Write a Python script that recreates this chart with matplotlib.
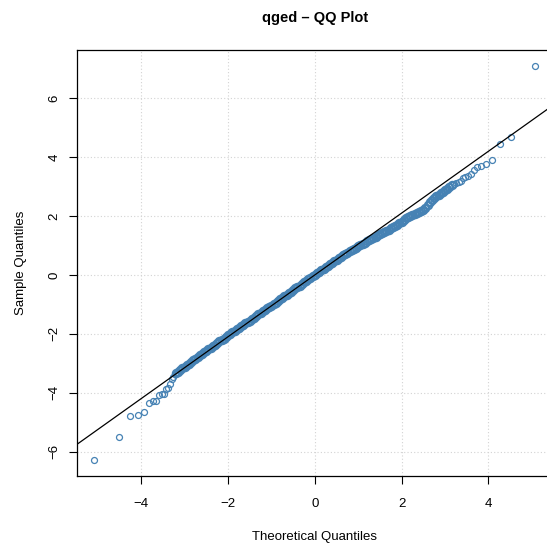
import matplotlib
matplotlib.use("Agg")
import matplotlib.pyplot as plt

plt.rcParams['font.family'] = ['Liberation Sans', 'DejaVu Sans']

title = "qged \u2013 QQ Plot"

# qqline of the sample (intercept, slope)
line_intercept = 0.0
line_slope = 1.05

# lower tail
theo_lower = [-5.08, -4.52, -4.26, -4.07, -3.94, -3.83, -3.74, -3.66, -3.59,
              -3.53, -3.48, -3.44, -3.39, -3.34, -3.29, -3.26, -3.23]
sample_lower = [-6.28, -5.51, -4.80, -4.77, -4.67, -4.35, -4.28, -4.27, -4.09,
                -4.06, -4.05, -3.87, -3.85, -3.69, -3.54, -3.47, -3.36]

# dense middle part
theo_mid = [-3.20, -3.15, -3.10, -3.05, -3.00, -2.95, -2.90, -2.85, -2.80, -2.75,
            -2.70, -2.65, -2.60, -2.55, -2.50, -2.45, -2.40, -2.35, -2.30, -2.25,
            -2.20, -2.15, -2.10, -2.05, -2.00, -1.95, -1.90, -1.85, -1.80, -1.75,
            -1.70, -1.65, -1.60, -1.55, -1.50, -1.45, -1.40, -1.35, -1.30, -1.25,
            -1.20, -1.15, -1.10, -1.05, -1.00, -0.95, -0.90, -0.85, -0.80, -0.75,
            -0.70, -0.65, -0.60, -0.55, -0.50, -0.45, -0.40, -0.35, -0.30, -0.25,
            -0.20, -0.15, -0.10, -0.05, 0.00, 0.05, 0.10, 0.15, 0.20, 0.25,
            0.30, 0.35, 0.40, 0.45, 0.50, 0.55, 0.60, 0.65, 0.70, 0.75,
            0.80, 0.85, 0.90, 0.95, 1.00, 1.05, 1.10, 1.15, 1.20, 1.25,
            1.30, 1.35, 1.40, 1.45, 1.50, 1.55, 1.60, 1.65, 1.70, 1.75,
            1.80, 1.85, 1.90, 1.95, 2.00, 2.05, 2.10, 2.15, 2.20, 2.25,
            2.30, 2.35, 2.40, 2.45, 2.50, 2.55, 2.60, 2.65, 2.70, 2.75,
            2.80, 2.85, 2.90, 2.95, 3.00, 3.05, 3.10, 3.15]
sample_mid = [-3.34, -3.29, -3.22, -3.17, -3.12, -3.06, -3.01, -2.95, -2.90, -2.84,
              -2.79, -2.73, -2.68, -2.63, -2.57, -2.52, -2.47, -2.42, -2.37, -2.31,
              -2.26, -2.21, -2.16, -2.10, -2.05, -2.00, -1.95, -1.90, -1.85, -1.80,
              -1.75, -1.70, -1.65, -1.60, -1.55, -1.50, -1.45, -1.40, -1.34, -1.29,
              -1.24, -1.19, -1.14, -1.09, -1.04, -0.99, -0.94, -0.88, -0.83, -0.78,
              -0.73, -0.68, -0.63, -0.57, -0.52, -0.46, -0.41, -0.36, -0.30, -0.25,
              -0.20, -0.15, -0.09, -0.04, 0.01, 0.06, 0.11, 0.16, 0.21, 0.26,
              0.31, 0.36, 0.41, 0.46, 0.51, 0.56, 0.61, 0.66, 0.71, 0.76,
              0.80, 0.85, 0.89, 0.93, 0.97, 1.01, 1.06, 1.10, 1.14, 1.18,
              1.22, 1.26, 1.30, 1.34, 1.38, 1.42, 1.46, 1.50, 1.54, 1.58,
              1.62, 1.66, 1.70, 1.75, 1.80, 1.86, 1.92, 1.97, 2.01, 2.04,
              2.07, 2.10, 2.13, 2.17, 2.21, 2.27, 2.37, 2.48, 2.55, 2.61,
              2.67, 2.72, 2.78, 2.83, 2.88, 2.93, 2.98, 3.05]

# upper tail
theo_upper = [3.20, 3.26, 3.32, 3.37, 3.42, 3.47, 3.53, 3.59, 3.66, 3.74,
              3.84, 3.94, 4.08, 4.26, 4.52, 5.08]
sample_upper = [3.09, 3.13, 3.16, 3.18, 3.30, 3.34, 3.36, 3.42, 3.55, 3.67,
                3.71, 3.76, 3.89, 4.44, 4.68, 7.10]

xticks = [-4, -2, 0, 2, 4]
yticks = [-6, -4, -2, 0, 2, 4, 6]

W, H = 547, 548
fig = plt.figure(figsize=(W / 100, H / 100), dpi=100)
ax = fig.add_axes([77 / W, 1 - 476 / H, (W - 77) / W, (476 - 50) / H])

pt_style = dict(linestyle='none', marker='o', markerfacecolor='none',
                markeredgecolor='steelblue')
ax.plot(theo_lower + theo_upper, sample_lower + sample_upper,
        markersize=4.3, markeredgewidth=0.9, **pt_style)
# the middle is where thousands of points overlap into a solid band
ax.plot(theo_mid, sample_mid, markersize=5.2, markeredgewidth=1.6, **pt_style)
ax.axline((0, line_intercept), slope=line_slope, color='black', linewidth=0.9)

ax.set_xlim(-5.48, 5.35)
ax.set_ylim(-6.83, 7.64)
ax.set_xticks(xticks)
ax.set_yticks(yticks)
ax.set_xticklabels([str(t).replace('-', '\u2212') for t in xticks])
ax.set_yticklabels([str(t).replace('-', '\u2212') for t in yticks],
                   rotation=90, va='center')
ax.grid(True, linestyle=(0, (1, 2)), color='#d3d3d3', linewidth=0.8)
ax.set_axisbelow(True)

ax.spines['right'].set_visible(False)
for s in ['left', 'bottom', 'top']:
    ax.spines[s].set_linewidth(0.9)
ax.tick_params(direction='out', length=6, width=0.8, labelsize=9.5,
               colors='black')
ax.tick_params(axis='x', pad=10)
ax.tick_params(axis='y', pad=6)

fig.text(315 / W, 1 - 18 / H, title, ha='center', va='center',
         fontsize=10.5, fontweight='bold')
fig.text(315 / W, 1 - 537 / H, "Theoretical Quantiles", ha='center',
         va='center', fontsize=9.5)
fig.text(21 / W, 1 - 263 / H, "Sample Quantiles", ha='center',
         va='center', rotation=90, fontsize=9.5)

fig.savefig('out.png', dpi=100)
